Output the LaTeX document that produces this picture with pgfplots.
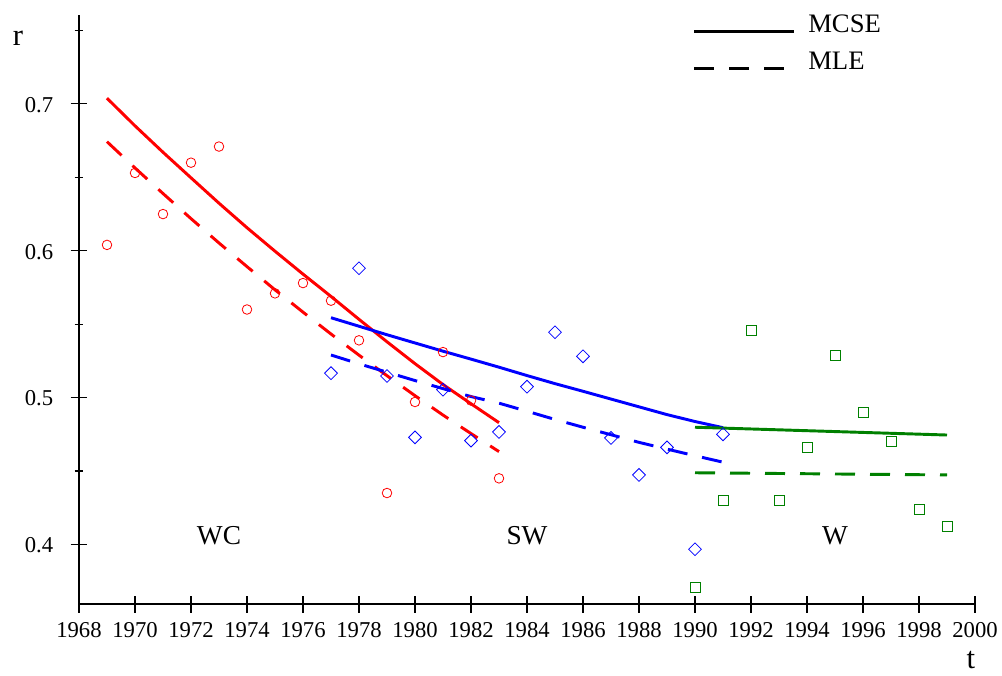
\documentclass[border=0pt]{standalone}
\usepackage{fontspec}
\setmainfont{Liberation Serif}
\usepackage{pgfplots}
\pgfplotsset{compat=1.18}
\definecolor{mygreen}{RGB}{0,128,0}
\begin{document}
\begin{tikzpicture}
\useasboundingbox (-59.25pt,-53.25pt) rectangle (692.25pt,453pt);
\begin{axis}[
  at={(0pt,0pt)}, anchor=south west,
  scale only axis, width=672pt, height=441.75pt,
  xmin=1968, xmax=2000, ymin=0.3594, ymax=0.7606,
  axis x line=bottom, axis y line=left,
  axis line style={-, line width=0.8pt},
  xtick={1968,1970,...,2000}, minor x tick num=1,
  ytick={0.4,0.5,0.6,0.7}, minor ytick={0.45,0.55,0.65,0.75},
  tick align=center, major tick length=12.75pt, minor tick length=6.5pt,
  every tick/.style={black, line width=0.8pt},
  /pgf/number format/assume math mode=true,
  xticklabel style={font=\fontsize{17}{20}\selectfont, anchor=base, inner sep=0pt, yshift=-18.5pt,
    /pgf/number format/1000 sep={}},
  yticklabel style={font=\fontsize{17}{20}\selectfont, anchor=base east, inner sep=0pt, xshift=-12.75pt, yshift=-6.2pt,
    /pgf/number format/fixed, /pgf/number format/precision=1},
  xlabel={t}, ylabel={r},
  xlabel style={font=\fontsize{23}{26}\selectfont, at={(axis description cs:0.9955,-0.109)}, anchor=base, inner sep=0pt, text depth=0pt},
  ylabel style={font=\fontsize{23}{26}\selectfont, at={(axis description cs:-0.068,0.949)}, anchor=base, rotate=-90, inner sep=0pt},
  clip=false,
  legend style={draw=none, fill=none, at={(axis description cs:0.6864,1.003)}, anchor=north west,
    inner sep=0pt, row sep=9.25pt,
    nodes={inner sep=0pt, font=\fontsize{20}{24}\selectfont, text height=14pt, text depth=4.5pt}},
  legend image code/.code={\path[draw=none, fill=none] (0pt,-1pt) rectangle (85.5pt,1pt);
    \draw[#1, overlay, line width=2.2pt] (0pt,-4pt) -- (75pt,-4pt);},
  legend cell align=left,
]
\addlegendimage{black, line width=2.2pt}
\addlegendentry{MCSE}
\addlegendimage{black, line width=2.2pt, dash pattern=on 15pt off 11.25pt}
\addlegendentry{MLE}

% WC (red)
\addplot[red, line width=2.2pt, forget plot] coordinates {
(1969,0.7039) (1970,0.6851) (1971,0.6671) (1972,0.6497) (1973,0.6324) (1974,0.6157)
(1975,0.5997) (1976,0.5841) (1977,0.5689) (1978,0.5533) (1979,0.5380) (1980,0.5231)
(1981,0.5089) (1982,0.4958) (1983,0.4829)};
\addplot[red, line width=2.2pt, dash pattern=on 15pt off 11.25pt, forget plot] coordinates {
(1969,0.6743) (1970,0.6564) (1971,0.6390) (1972,0.6219) (1973,0.6053) (1974,0.5892)
(1975,0.5734) (1976,0.5582) (1977,0.5433) (1978,0.5289) (1979,0.5149) (1980,0.5013)
(1981,0.4881) (1982,0.4755) (1983,0.4632)};
\addplot[only marks, mark=o, mark size=3.6pt, red, mark options={line width=0.6pt}, forget plot] coordinates {
(1969,0.604) (1970,0.653) (1971,0.625) (1972,0.660) (1973,0.671) (1974,0.560) (1975,0.571)
(1976,0.578) (1977,0.566) (1978,0.539) (1979,0.435) (1980,0.497) (1981,0.531) (1982,0.498) (1983,0.445)};

% SW (blue)
\addplot[blue, line width=2.2pt, forget plot] coordinates {
(1977,0.5544) (1978,0.5486) (1979,0.5428) (1980,0.5372) (1981,0.5316) (1982,0.5262)
(1983,0.5207) (1984,0.5150) (1985,0.5095) (1986,0.5043) (1987,0.4990) (1988,0.4937)
(1989,0.4884) (1990,0.4837) (1991,0.4795)};
\addplot[blue, line width=2.2pt, dash pattern=on 15pt off 11.25pt, forget plot] coordinates {
(1977,0.5290) (1978,0.5230) (1979,0.5173) (1980,0.5116) (1981,0.5061) (1982,0.5007)
(1983,0.4962) (1984,0.4907) (1985,0.4851) (1986,0.4798) (1987,0.4747) (1988,0.4695)
(1989,0.4649) (1990,0.4604) (1991,0.4560)};
\addplot[only marks, mark=square, mark size=3.4pt, blue, mark options={rotate=45, line width=0.6pt}, forget plot] coordinates {
(1977,0.5166) (1978,0.5881) (1979,0.5147) (1980,0.4729) (1981,0.5054) (1982,0.4707)
(1983,0.4766) (1984,0.5074) (1985,0.5445) (1986,0.5281) (1987,0.4725) (1988,0.4473)
(1989,0.4661) (1990,0.3967) (1991,0.4750)};

% W (green)
\addplot[mygreen, line width=2.2pt, forget plot] coordinates {(1990,0.4798) (1999,0.4745)};
\addplot[mygreen, line width=2.2pt, dash pattern=on 15pt off 11.25pt, forget plot] coordinates {(1990,0.4488) (1999,0.4473)};
\addplot[only marks, mark=square, mark size=3.8pt, mygreen, mark options={line width=0.6pt}, forget plot] coordinates {
(1990,0.3710) (1991,0.4300) (1992,0.5456) (1993,0.4302) (1994,0.4661) (1995,0.5290)
(1996,0.4900) (1997,0.4704) (1998,0.4241) (1999,0.4123)};

\node[font=\fontsize{20.5}{24}\selectfont, anchor=base, inner sep=0pt] at (axis cs:1973,0.4) {WC};
\node[font=\fontsize{20.5}{24}\selectfont, anchor=base, inner sep=0pt] at (axis cs:1984,0.4) {SW};
\node[font=\fontsize{20.5}{24}\selectfont, anchor=base, inner sep=0pt] at (axis cs:1995,0.4) {W};
\end{axis}
\end{tikzpicture}
\end{document}
